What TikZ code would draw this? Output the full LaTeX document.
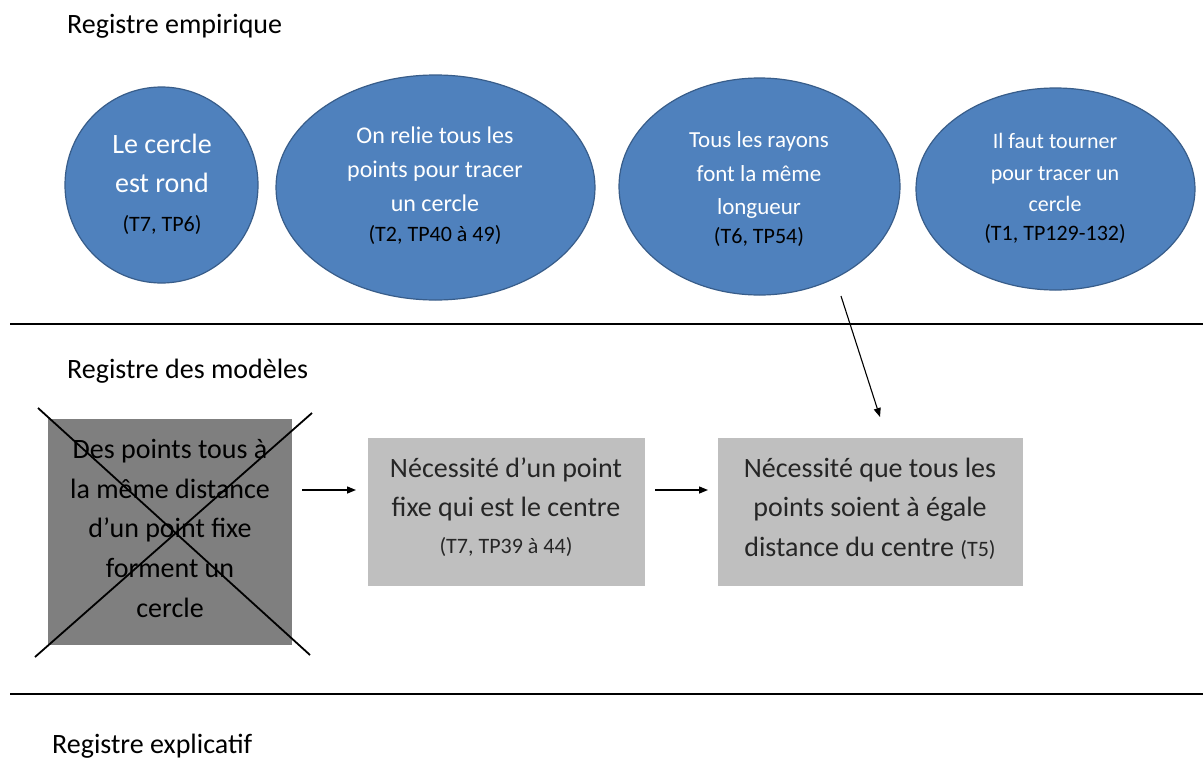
\documentclass[tikz,border=0pt]{standalone}
\usepackage{fontspec}
\setmainfont{Carlito}
\usetikzlibrary{shapes.geometric,arrows.meta}
\definecolor{eblue}{HTML}{4F81BD}
\definecolor{eedge}{HTML}{385D8A}
\definecolor{lgray}{HTML}{BFBFBF}
\definecolor{dgray}{HTML}{7F7F7F}
\definecolor{txt}{HTML}{262626}
\begin{document}
\begin{tikzpicture}[x=1pt,y=-1pt,
  oval/.style={ellipse,draw=eedge,line width=1.2pt,fill=eblue,inner sep=0pt},
  wl/.style={anchor=base,inner sep=0pt,text=white},
  bl/.style={anchor=base,inner sep=0pt,text=black,font=\fontsize{22}{26}\selectfont},
  gbox/.style={rectangle,fill=lgray,inner sep=0pt},
  gl/.style={anchor=base,inner sep=0pt,text=txt,font=\fontsize{28}{32}\selectfont},
  regtitle/.style={anchor=base west,inner sep=0pt,text=black,font=\fontsize{28}{32}\selectfont},
  arr/.style={-{Triangle[length=9pt,width=7pt]},line width=1.4pt},
  sep/.style={line width=1.2pt}]
\useasboundingbox (0,0) rectangle (1203,758);
\fill[white] (0,0) rectangle (1203,758);

\node[regtitle] (t1) at (67,33) {Registre empirique};
\node[regtitle] (t2) at (67,378) {Registre des modèles};
\node[regtitle] (t3) at (52,753) {Registre explicatif};

\coordinate (l1a) at (10,324); \coordinate (l1b) at (1203,324);
\coordinate (l2a) at (10,694); \coordinate (l2b) at (1203,694);
\draw[sep] (l1a) -- (l1b);
\draw[sep] (l2a) -- (l2b);

% ellipse 1
\node[oval,minimum width=193,minimum height=196] (e1) at (161.5,185) {};
\node[wl,font=\fontsize{28}{32}\selectfont] (e1a) at (162,153) {Le cercle};
\node[wl,font=\fontsize{28}{32}\selectfont] (e1b) at (162,192) {est rond};
\node[bl] (e1c) at (162,231) {(T7, TP6)};
% ellipse 2
\node[oval,minimum width=319,minimum height=225] (e2) at (435.5,187.5) {};
\node[wl,font=\fontsize{24}{28}\selectfont] (e2a) at (435,143) {On relie tous les};
\node[wl,font=\fontsize{24}{28}\selectfont] (e2b) at (435,177) {points pour tracer};
\node[wl,font=\fontsize{24}{28}\selectfont] (e2c) at (435,211) {un cercle};
\node[bl] (e2d) at (435,241) {(T2, TP40 à 49)};
% ellipse 3
\node[oval,minimum width=281,minimum height=217] (e3) at (759.5,186.5) {};
\node[wl,font=\fontsize{23}{27}\selectfont] (e3a) at (759,147) {Tous les rayons};
\node[wl,font=\fontsize{23}{27}\selectfont] (e3b) at (759,181) {font la même};
\node[wl,font=\fontsize{23}{27}\selectfont] (e3c) at (759,214) {longueur};
\node[bl] (e3d) at (759,243) {(T6, TP54)};
% ellipse 4
\node[oval,minimum width=279,minimum height=202] (e4) at (1055.5,189) {};
\node[wl,font=\fontsize{22}{26}\selectfont] (e4a) at (1055,148) {Il faut tourner};
\node[wl,font=\fontsize{22}{26}\selectfont] (e4b) at (1055,180) {pour tracer un};
\node[wl,font=\fontsize{22}{26}\selectfont] (e4c) at (1055,211) {cercle};
\node[bl] (e4d) at (1055,240) {(T1, TP129-132)};

% crossed-out box
\node[gbox,fill=dgray,minimum width=244,minimum height=226] (b1) at (170,532) {};
\node[gl,text=black] (b1a) at (170,458) {Des points tous à};
\node[gl,text=black] (b1b) at (170,498) {la même distance};
\node[gl,text=black] (b1c) at (170,537) {d’un point fixe};
\node[gl,text=black] (b1d) at (170,577) {forment un};
\node[gl,text=black] (b1e) at (170,617) {cercle};
\coordinate (c1) at (38,408); \coordinate (c2) at (310,655);
\coordinate (c3) at (312,413); \coordinate (c4) at (35,657);
\draw[line width=1.8pt] (c1) -- (c2);
\draw[line width=1.8pt] (c3) -- (c4);

% box 2
\node[gbox,minimum width=277,minimum height=148] (b2) at (506.5,512) {};
\node[gl] (b2a) at (506,477) {Nécessité d’un point};
\node[gl] (b2b) at (506,516) {fixe qui est le centre};
\node[gl,font=\fontsize{22}{26}\selectfont] (b2c) at (506,553) {(T7, TP39 à 44)};
% box 3
\node[gbox,minimum width=305,minimum height=148] (b3) at (870.5,512) {};
\node[gl] (b3a) at (870,477) {Nécessité que tous les};
\node[gl] (b3b) at (870,516) {points soient à égale};
\node[gl] (b3c) at (870,556) {distance du centre {\fontsize{22}{26}\selectfont (T5)}};

\coordinate (a1s) at (302,490); \coordinate (a1e) at (356,490);
\coordinate (a2s) at (655,490); \coordinate (a2e) at (708,490);
\draw[arr] (a1s) -- (a1e);
\draw[arr] (a2s) -- (a2e);
\coordinate (a3s) at (841,296); \coordinate (a3e) at (880,417);
\draw[arr,line width=1.1pt] (a3s) -- (a3e);
\end{tikzpicture}
\end{document}
